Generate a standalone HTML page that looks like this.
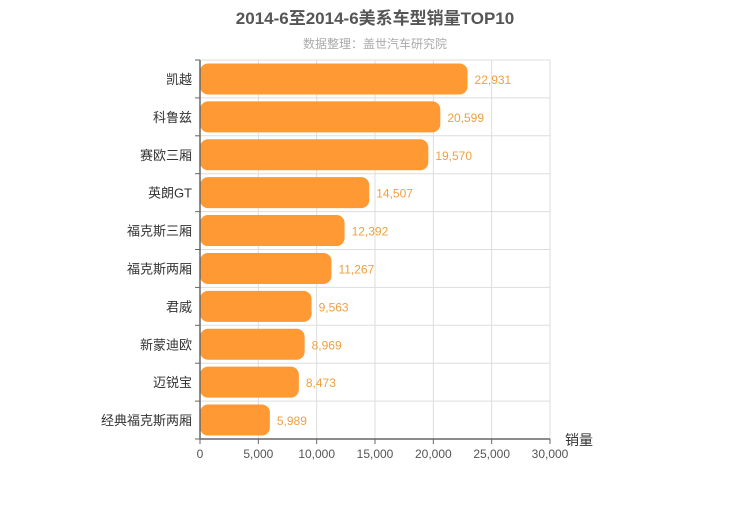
<!DOCTYPE html>
<html><head><meta charset="utf-8"><style>
body{margin:0;background:#fff;font-family:"Liberation Sans","Noto Sans CJK SC",sans-serif}
</style></head><body>
<svg id="c" width="750" height="500" xmlns="http://www.w3.org/2000/svg">
<text x="375" y="24" text-anchor="middle" font-size="17" font-weight="bold" fill="#555" font-family="Liberation Sans, Noto Sans CJK SC, sans-serif">2014-6至2014-6美系车型销量TOP10</text>
<text x="375" y="48" text-anchor="middle" font-size="12" fill="#aaa" font-family="Liberation Sans, Noto Sans CJK SC, sans-serif">数据整理：盖世汽车研究院</text>
<g id="grid"></g><g id="bars"></g><g id="axes"></g>
</svg>
<script>
const categories=["凯越","科鲁兹","赛欧三厢","英朗GT","福克斯三厢","福克斯两厢","君威","新蒙迪欧","迈锐宝","经典福克斯两厢"];
const values=[22931,20599,19570,14507,12392,11267,9563,8969,8473,5989];
const ticks=[0,5000,10000,15000,20000,25000,30000];
const NS="http://www.w3.org/2000/svg";
const X0=200,X1=550,Y0=60,Y1=439,MAX=30000;
const band=(Y1-Y0)/categories.length;
const xs=v=>X0+(v/MAX)*(X1-X0);
function mk(t,a,p){const e=document.createElementNS(NS,t);for(const k in a)e.setAttribute(k,a[k]);p.appendChild(e);return e;}
const g=document.getElementById('grid'),b=document.getElementById('bars'),ax=document.getElementById('axes');
ticks.forEach(t=>{
 if(t>0){const l=mk('line',{x1:xs(t),x2:xs(t),y1:Y0,y2:Y1,stroke:'#ddd'},g);
 
 }
 const tk=mk('line',{x1:xs(t),x2:xs(t),y1:Y1,y2:Y1+5,stroke:'#666'},ax);
 
 
 const tx=mk('text',{x:xs(t),y:Y1+19,'text-anchor':'middle','font-size':12,fill:'#555'},ax);
 tx.textContent=t.toLocaleString('en-US');
 
 
});
for(let i=0;i<=categories.length;i++){
 const y=Y0+i*band;
 if(i<categories.length){const l=mk('line',{x1:X0,x2:X1,y1:y,y2:y,stroke:'#ddd'},g);
 
 }
 const tk=mk('line',{x1:X0-5,x2:X0,y1:y,y2:y,stroke:'#666'},ax);
 
 
}
categories.forEach((c,i)=>{
 const yc=Y0+(i+0.5)*band;
 const r=mk('rect',{x:X0,y:yc-15.5,width:xs(values[i])-X0,height:31,rx:8,ry:8,fill:'#ff9933'},b);
 
 
 const v=mk('text',{x:xs(values[i])+7,y:yc+5,'font-size':12,fill:'#f0a040'},b);
 v.textContent=values[i].toLocaleString('en-US');
 
 
 const t=mk('text',{x:X0-8,y:yc+5,'text-anchor':'end','font-size':13,fill:'#333'},ax);
 t.textContent=c;
 
 
});
const la=mk('line',{x1:X0,x2:X0,y1:Y0,y2:Y1,stroke:'#666','stroke-width':1.5},ax);


const lb=mk('line',{x1:X0,x2:X1,y1:Y1,y2:Y1,stroke:'#666','stroke-width':1.5},ax);


const xt=mk('text',{x:565,y:445,'font-size':14,fill:'#333'},ax);
xt.textContent='销量';


</script>
</body></html>
